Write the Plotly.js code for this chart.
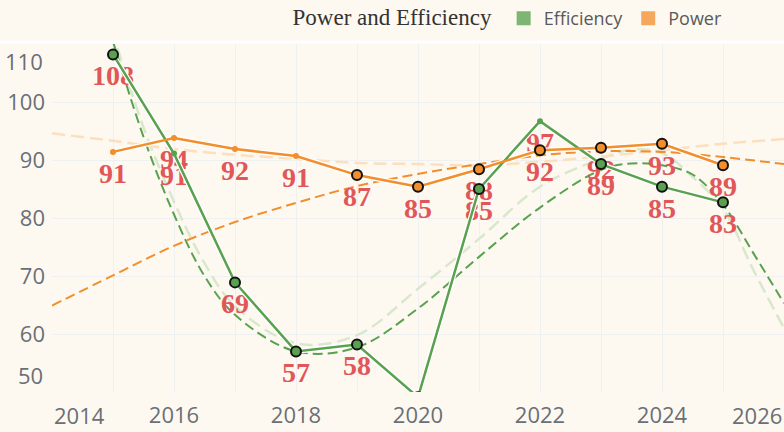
<!DOCTYPE html>
<html>
<head>
<meta charset="utf-8">
<script src="https://cdn.plot.ly/plotly-3.0.1.min.js"></script>
<style>
  html, body { margin: 0; padding: 0; background: #fdf9f1; }
  #chart { width: 784px; height: 432px; }
</style>
</head>
<body>
<div id="chart"></div>
<script>
// ---- data ----
const years = [2015, 2016, 2017, 2018, 2019, 2020, 2021, 2022, 2023, 2024, 2025];
const efficiency = [108.2, 91.1, 68.9, 57.0, 58.2, 49.1, 85.0, 96.7, 89.3, 85.4, 82.7];
const power = [91.4, 93.8, 91.9, 90.7, 87.4, 85.4, 88.4, 91.7, 92.1, 92.8, 89.1];
// which points carry the outlined (highlighted) marker
const effHighlighted = [true, false, true, true, true, true, true, false, true, true, true];
const powHighlighted = [false, false, false, false, true, true, true, true, true, true, true];

// trend curves
const effTrendYears = [2014, 2014.5, 2015, 2015.5, 2016, 2016.5, 2017, 2018, 2019, 2020, 2021, 2022, 2023, 2023.5, 2024, 2024.5, 2025, 2025.5, 2026];
const effTrendA = [145, 127, 110.4, 94, 80.6, 70, 63.3, 57.0, 57.7, 64.4, 73.3, 81.8, 88.3, 89.4, 89.1, 87.5, 82.3, 73.9, 65.3];
const effTrendB = [140, 125, 111.5, 95.6, 82.8, 72.2, 64.8, 58.4, 59.8, 67.8, 76.4, 85.4, 90.2, 91.8, 91.2, 87.1, 81.6, 71.0, 61.0];
const powTrendYears = [2014, 2015, 2016, 2017, 2018, 2019, 2020, 2021, 2022, 2023, 2024, 2025, 2026];
const powTrendA = [64.9, 70.1, 75.2, 79.3, 82.6, 85.5, 87.6, 89.3, 90.8, 91.5, 91.4, 90.5, 89.3];
const powTrendB = [94.6, 93.3, 91.9, 90.9, 90.2, 89.5, 89.3, 89.1, 89.7, 90.6, 91.7, 92.8, 93.6];

// axis ticks
const xTicks = [2014, 2015, 2016, 2017, 2018, 2019, 2020, 2021, 2022, 2023, 2024, 2025, 2026];
const xLabels = ["2014", "", "2016", "", "2018", "", "2020", "", "2022", "", "2024", "", "2026"];
const yTicks = [50, 60, 70, 80, 90, 100, 110];
const yLabels = ["50", "60", "70", "80", "90", "100", "110"];

const seriesNames = ["Efficiency", "Power"];
const title = "Power and Efficiency";

// ---- styles ----
const GREEN = "#59a14f", ORANGE = "#f28e2b";
const GREEN_PALE = "#d9e7cd", ORANGE_PALE = "#fbdfbf";
const LABEL_RED = "#e15759";
const TICK_FONT = { family: "Open Sans, sans-serif", size: 22, color: "#6a6f77" };
const LABEL_FONT = { family: "Liberation Serif, Times New Roman, serif", size: 28, color: LABEL_RED, weight: "bold" };

const yMin = yTicks[0], yMax = yTicks[yTicks.length - 1];
// labels of points outside the visible range are not shown (as in the reference)
const labelText = a => a.map(v => (v < yMin || v > yMax) ? "" : String(Math.round(v)));
const markerSizes = flags => flags.map(f => f ? 10 : 6);
const markerLines = flags => flags.map(f => f ? 2 : 0);

const traces = [];
// pale trend lines
traces.push({ x: effTrendYears, y: effTrendB, mode: "lines", line: { color: GREEN_PALE, width: 2.5, dash: "13px,6px", shape: "spline", smoothing: 1 }, showlegend: false, hoverinfo: "skip" });
traces.push({ x: powTrendYears, y: powTrendB, mode: "lines", line: { color: ORANGE_PALE, width: 2.5, dash: "13px,6px", shape: "spline", smoothing: 1 }, showlegend: false, hoverinfo: "skip" });
// dark trend lines
traces.push({ x: effTrendYears, y: effTrendA, mode: "lines", line: { color: GREEN, width: 2, dash: "10px,5px", shape: "spline", smoothing: 1 }, showlegend: false, hoverinfo: "skip" });
traces.push({ x: powTrendYears, y: powTrendA, mode: "lines", line: { color: ORANGE, width: 2, dash: "10px,5px", shape: "spline", smoothing: 1 }, showlegend: false, hoverinfo: "skip" });
// value labels (invisible marker sets the gap below the point)
[efficiency, power].forEach(vals => {
  traces.push({ x: years, y: vals, mode: "text+markers", text: labelText(vals), textposition: "bottom center",
    textfont: LABEL_FONT, marker: { size: 14.4, opacity: 0 }, cliponaxis: true, showlegend: false, hoverinfo: "skip" });
});
// white halos
[efficiency, power].forEach(vals => {
  traces.push({ x: years, y: vals, mode: "lines", line: { color: "#ffffff", width: 5 }, showlegend: false, hoverinfo: "skip" });
});
// main lines + markers
traces.push({ x: years, y: efficiency, mode: "lines+markers", name: seriesNames[0], showlegend: false,
  line: { color: GREEN, width: 2.5 },
  marker: { color: GREEN, opacity: 1, size: markerSizes(effHighlighted), line: { color: "#111", width: markerLines(effHighlighted) } } });
traces.push({ x: years, y: power, mode: "lines+markers", name: seriesNames[1], showlegend: false,
  line: { color: ORANGE, width: 2.5 },
  marker: { color: ORANGE, opacity: 1, size: markerSizes(powHighlighted), line: { color: "#111", width: markerLines(powHighlighted) } } });
// legend entries
traces.push({ x: [null], y: [null], mode: "markers", name: seriesNames[0], marker: { symbol: "square", size: 14, color: "#7db672" } });
traces.push({ x: [null], y: [null], mode: "markers", name: seriesNames[1], marker: { symbol: "square", size: 14, color: "#f5a75c" } });

const blank = (labels, idxs) => labels.map((l, i) => idxs.includes(i) ? "" : l);

const layout = {
  width: 784, height: 432,
  paper_bgcolor: "#fdf9f1", plot_bgcolor: "#fdf9f1",
  margin: { l: 52, r: 0, t: 43, b: 40 },
  title: { text: title, font: { family: "Liberation Serif, Times New Roman, serif", size: 23, color: "#333333" },
           x: 0.5, xref: "container", y: 1 - 17 / 432, yref: "container", yanchor: "middle", xanchor: "center" },
  showlegend: true,
  legend: { orientation: "h", x: 0.617, y: 1.074, xanchor: "left", yanchor: "middle", itemwidth: 30,
            font: { family: "Open Sans, sans-serif", size: 18, color: "#595959" }, bgcolor: "rgba(0,0,0,0)" },
  xaxis: { range: [2014, 2026], tickvals: xTicks, ticktext: blank(xLabels, [0, xLabels.length - 1]),
           showgrid: true, gridcolor: "#eef0f1", gridwidth: 1, zeroline: false, showline: false, ticks: "",
           tickfont: TICK_FONT, ticklabelstandoff: 8, fixedrange: true },
  yaxis: { range: [yMin, yMax], tickvals: yTicks, ticktext: blank(yLabels, [0, yLabels.length - 1]),
           showgrid: true, gridcolor: "#eef0f1", gridwidth: 1, zeroline: false, showline: false, ticks: "",
           tickfont: TICK_FONT, ticklabelstandoff: 6, fixedrange: true },
  shapes: [
    { type: "line", xref: "paper", yref: "paper", x0: -0.08, x1: 1.01, y0: 1.006, y1: 1.006, line: { color: "#ffffff", width: 3 }, layer: "below" }
  ],
  annotations: [
    { xref: "x", yref: "paper", x: xTicks[0], y: -0.066, xanchor: "left", yanchor: "middle", text: xLabels[0], showarrow: false, font: TICK_FONT },
    { xref: "x", yref: "paper", x: xTicks[xTicks.length - 1], y: -0.066, xanchor: "right", yanchor: "middle", text: xLabels[xLabels.length - 1], showarrow: false, font: TICK_FONT },
    { xref: "paper", yref: "y", x: 0, xshift: -7, y: yMax, yshift: -17, xanchor: "right", yanchor: "middle", text: yLabels[yLabels.length - 1], showarrow: false, font: TICK_FONT },
    { xref: "paper", yref: "y", x: 0, xshift: -7, y: yMin, yshift: 17, xanchor: "right", yanchor: "middle", text: yLabels[0], showarrow: false, font: TICK_FONT }
  ],
  hovermode: false
};

Plotly.newPlot("chart", traces, layout, { displayModeBar: false, staticPlot: true });
</script>
</body>
</html>
